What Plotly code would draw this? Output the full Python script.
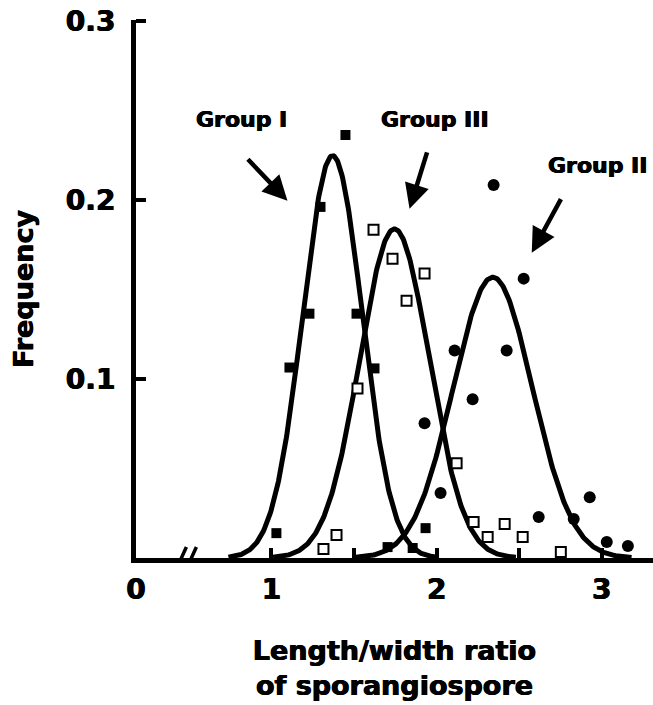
import numpy as np
import plotly.graph_objects as go

# ---- data ----
# Group I (filled squares)
g1_x = [1.448, 1.297, 1.230, 1.515, 1.109, 1.624, 1.030, 1.703, 1.855, 1.933]
g1_y = [0.2365, 0.1963, 0.1366, 0.1366, 0.1065, 0.1060, 0.0139, 0.0061, 0.0056, 0.0167]
# Group III (open squares)
g3_x = [1.618, 1.733, 1.927, 1.818, 1.521, 1.394, 1.315, 2.121, 2.224, 2.412, 2.309, 2.521, 2.752]
g3_y = [0.1835, 0.1673, 0.1590, 0.1439, 0.0948, 0.0128, 0.0050, 0.0530, 0.0201, 0.0190, 0.0117, 0.0117, 0.0033]
# Group II (filled circles)
g2_x = [2.345, 2.527, 2.109, 2.424, 2.218, 1.927, 2.024, 2.927, 2.618, 2.830, 3.030, 3.158]
g2_y = [0.2086, 0.1562, 0.1160, 0.1160, 0.0887, 0.0753, 0.0363, 0.0340, 0.0229, 0.0218, 0.0089, 0.0067]

# fitted normal curves (mean, sd, peak height)
fit_names = ["Group I", "Group III", "Group II"]
fit_mean = [1.37, 1.745, 2.34]
fit_sd = [0.18, 0.21, 0.24]
fit_peak = [0.225, 0.184, 0.157]

x_tickvals = [0.18, 1, 1.5, 2, 2.5, 3]
x_ticktext = ["0", "1", "", "2", "", "3"]
y_tickvals = [0.1, 0.2, 0.3]
y_ticktext = ["0.1", "0.2", "0.3"]

FONT = "DejaVu Sans"
SHADOW = "0.5px 0 0 black, -0.5px 0 0 black"


def bold(size):
    return dict(family=FONT, size=size, color="black", weight="bold", shadow=SHADOW)


fig = go.Figure()

for m, s, p in zip(fit_mean, fit_sd, fit_peak):
    xs = np.linspace(m - 3.5 * s, m + 3.5 * s, 300)
    ys = p * np.exp(-0.5 * ((xs - m) / s) ** 2)
    fig.add_trace(go.Scatter(x=xs, y=ys, mode="lines",
                             line=dict(color="black", width=5),
                             hoverinfo="skip", showlegend=False, cliponaxis=False))

fig.add_trace(go.Scatter(x=g1_x, y=g1_y, mode="markers", name="Group I",
                         marker=dict(symbol="square", size=10, color="black"),
                         showlegend=False, cliponaxis=False))
fig.add_trace(go.Scatter(x=g3_x, y=g3_y, mode="markers", name="Group III",
                         marker=dict(symbol="square", size=10, color="white",
                                     line=dict(color="black", width=2)),
                         showlegend=False, cliponaxis=False))
fig.add_trace(go.Scatter(x=g2_x, y=g2_y, mode="markers", name="Group II",
                         marker=dict(symbol="circle", size=12, color="black"),
                         showlegend=False, cliponaxis=False))

# group labels and arrows
labels = [
    dict(text="Group I", x=0.818, y=0.2454, tip=(1.097, 0.1997), off=(-41, -43)),
    dict(text="Group III", x=1.988, y=0.2454, tip=(1.836, 0.1952), off=(18, -58)),
    dict(text="Group II", x=2.975, y=0.2192, tip=(2.576, 0.1707), off=(30, -55)),
]
for L in labels:
    fig.add_annotation(x=L["x"], y=L["y"], text=L["text"], showarrow=False,
                       font=bold(22))
    fig.add_annotation(x=L["tip"][0], y=L["tip"][1], ax=L["off"][0], ay=L["off"][1],
                       axref="pixel", ayref="pixel", text="", showarrow=True,
                       arrowhead=2, arrowsize=1.1, arrowwidth=4.5, arrowcolor="black",
                       standoff=0, startstandoff=0)

# axis break "//"
brk = 0.485
fig.add_shape(type="rect", xref="x", yref="y", xsizemode="pixel", ysizemode="pixel",
              xanchor=brk, yanchor=0, x0=-5, x1=5, y0=-4, y1=4,
              fillcolor="white", line=dict(width=0), layer="above")
for dx in (-5, 5):
    fig.add_shape(type="line", xref="x", yref="y", xsizemode="pixel", ysizemode="pixel",
                  xanchor=brk, yanchor=0, x0=dx - 5, x1=dx + 5, y0=-11, y1=11,
                  line=dict(color="black", width=3.5), layer="above")

fig.update_xaxes(range=[0.18, 3.31], showgrid=False, zeroline=False, automargin=False,
                 showline=True, linecolor="black", linewidth=5,
                 ticks="inside", ticklen=10, tickwidth=4, tickcolor="black",
                 tickvals=x_tickvals, ticktext=x_ticktext, ticklabelstandoff=2,
                 ticklabeloverflow="allow",
                 tickfont=bold(28),
                 title=dict(text="Length/width ratio<br>of sporangiospore", standoff=38,
                            font=bold(27)))
fig.update_yaxes(range=[0, 0.3008], showgrid=False, zeroline=False, automargin=False,
                 showline=True, linecolor="black", linewidth=5,
                 ticks="inside", ticklen=10, tickwidth=4, tickcolor="black",
                 tickvals=y_tickvals, ticktext=y_ticktext, ticklabelstandoff=10,
                 ticklabeloverflow="allow",
                 tickfont=bold(28),
                 title=dict(text="Frequency", standoff=26, font=bold(27)))

fig.update_layout(width=653, height=705, margin=dict(l=136, r=0, t=20, b=147),
                  plot_bgcolor="white", paper_bgcolor="white")

# remove the page's default body margin so the figure fills the window
fig.write_html("out.html", config={"displayModeBar": False},
               post_script="document.body.style.margin='0';")
